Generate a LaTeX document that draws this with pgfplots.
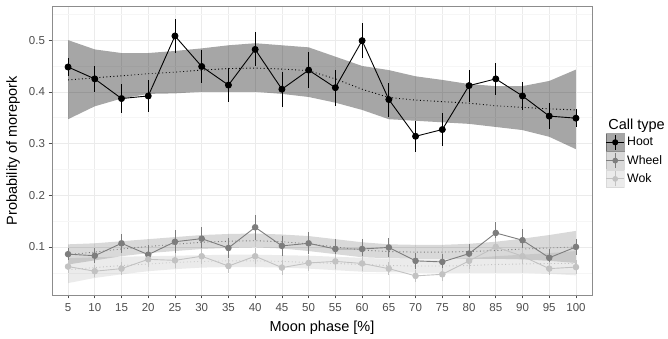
\documentclass[border=0pt]{standalone}
\usepackage{pgfplots}
\pgfplotsset{compat=1.18}
\usepackage{pgfplotstable}
\usepgfplotslibrary{fillbetween}
\usepackage{fontspec}
\setmainfont{Liberation Sans}
\definecolor{hootc}{HTML}{000000}
\definecolor{wheelc}{HTML}{7D7D7D}
\definecolor{wokc}{HTML}{C2C2C2}
\definecolor{gridmaj}{HTML}{EBEBEB}
\definecolor{gridmin}{HTML}{F6F6F6}
\definecolor{tickc}{HTML}{4D4D4D}

\pgfplotstableread{
x y e s lo hi
5 0.448 0.017 0.423 0.347 0.500
10 0.425 0.025 0.427 0.372 0.482
15 0.387 0.028 0.431 0.387 0.475
20 0.392 0.031 0.435 0.396 0.475
25 0.508 0.033 0.438 0.397 0.479
30 0.449 0.032 0.442 0.400 0.484
35 0.413 0.033 0.445 0.400 0.490
40 0.482 0.033 0.446 0.400 0.494
45 0.405 0.034 0.444 0.396 0.490
50 0.442 0.035 0.441 0.390 0.486
55 0.408 0.035 0.425 0.379 0.468
60 0.499 0.034 0.405 0.365 0.450
65 0.385 0.033 0.389 0.347 0.442
70 0.314 0.030 0.384 0.344 0.430
75 0.327 0.032 0.381 0.341 0.423
80 0.412 0.031 0.378 0.338 0.415
85 0.425 0.031 0.373 0.332 0.411
90 0.392 0.027 0.370 0.326 0.411
95 0.353 0.025 0.367 0.313 0.421
100 0.349 0.017 0.365 0.289 0.443
}\hoot

\pgfplotstableread{
x y e s lo hi
5 0.086 0.012 0.085 0.066 0.105
10 0.083 0.015 0.090 0.074 0.107
15 0.107 0.018 0.096 0.082 0.111
20 0.085 0.018 0.101 0.088 0.115
25 0.110 0.022 0.105 0.092 0.119
30 0.116 0.023 0.109 0.096 0.123
35 0.098 0.020 0.111 0.098 0.125
40 0.138 0.024 0.112 0.099 0.126
45 0.102 0.020 0.110 0.097 0.124
50 0.107 0.021 0.106 0.092 0.121
55 0.096 0.019 0.100 0.086 0.115
60 0.096 0.019 0.094 0.080 0.109
65 0.099 0.019 0.091 0.078 0.105
70 0.073 0.016 0.090 0.077 0.104
75 0.071 0.016 0.090 0.077 0.104
80 0.087 0.018 0.091 0.077 0.106
85 0.127 0.022 0.093 0.077 0.110
90 0.113 0.021 0.096 0.076 0.116
95 0.079 0.017 0.098 0.073 0.123
100 0.100 0.015 0.100 0.069 0.131
}\wheel

\pgfplotstableread{
x y e s lo hi
5 0.062 0.012 0.056 0.030 0.078
10 0.053 0.012 0.060 0.040 0.080
15 0.058 0.013 0.064 0.047 0.081
20 0.076 0.015 0.067 0.053 0.082
25 0.074 0.015 0.070 0.057 0.083
30 0.082 0.016 0.072 0.060 0.084
35 0.063 0.014 0.073 0.061 0.085
40 0.082 0.016 0.073 0.061 0.085
45 0.060 0.014 0.072 0.060 0.084
50 0.069 0.015 0.070 0.058 0.083
55 0.072 0.015 0.068 0.055 0.081
60 0.068 0.015 0.066 0.052 0.079
65 0.058 0.013 0.064 0.051 0.077
70 0.044 0.011 0.063 0.050 0.076
75 0.047 0.012 0.063 0.050 0.076
80 0.073 0.015 0.064 0.050 0.078
85 0.100 0.018 0.066 0.050 0.082
90 0.082 0.016 0.067 0.050 0.085
95 0.058 0.013 0.068 0.048 0.088
100 0.061 0.013 0.068 0.045 0.092
}\wok

\begin{document}
\begin{tikzpicture}
\begin{axis}[
  scale only axis, width=540pt, height=289pt,
  clip=false,
  xmin=2, xmax=103, ymin=0.007, ymax=0.566,
  xtick={5,10,...,100},
  ytick={0.1,0.2,0.3,0.4,0.5},
  minor ytick={0.05,0.15,0.25,0.35,0.45,0.55},
  yticklabels={0.1,0.2,0.3,0.4,0.5},
  xmajorgrids, ymajorgrids, yminorgrids,
  major grid style={color=gridmaj, line width=0.6pt},
  minor grid style={color=gridmin, line width=0.5pt},
  axis line style={color=black!45, line width=0.6pt},
  tick align=outside, major tick length=3.5pt, minor tick length=0pt,
  tick style={color=tickc, line width=0.6pt},
  xtick pos=bottom, ytick pos=left,
  /pgf/number format/assume math mode=true,
  tick label style={font=\fontsize{11.5}{12}\selectfont, color=tickc},
  xticklabel style={yshift=-1.5pt},
  xlabel={Moon phase [\%]}, ylabel={Probability of morepork},
  label style={font=\fontsize{14.5}{15}\selectfont},
  xlabel style={at={(axis description cs:0.5,-0.114)}, anchor=center},
  ylabel style={at={(axis description cs:-0.072,0.5)}, anchor=center},
  legend style={at={(1.0255,0.56)}, anchor=north west, draw=none, fill=none,
    inner sep=0pt, outer sep=0pt, row sep=0pt,
    font=\fontsize{12.3}{12.3}\selectfont,
    nodes={inner xsep=2.5pt, inner ysep=0pt}},
  legend cell align=left,
]
% ribbons
\addplot[name path=wokup, draw=none, forget plot] table[x=x,y=hi]{\wok};
\addplot[name path=woklo, draw=none, forget plot] table[x=x,y=lo]{\wok};
\addplot[fill=black, fill opacity=0.08, draw=none, forget plot] fill between[of=wokup and woklo];
\addplot[name path=wheelup, draw=none, forget plot] table[x=x,y=hi]{\wheel};
\addplot[name path=wheello, draw=none, forget plot] table[x=x,y=lo]{\wheel};
\addplot[fill=black, fill opacity=0.15, draw=none, forget plot] fill between[of=wheelup and wheello];
\addplot[name path=hootup, draw=none, forget plot] table[x=x,y=hi]{\hoot};
\addplot[name path=hootlo, draw=none, forget plot] table[x=x,y=lo]{\hoot};
\addplot[fill=black, fill opacity=0.35, draw=none, forget plot] fill between[of=hootup and hootlo];
% smooth lines
\addplot[wokc, line width=0.9pt, dash pattern=on 0.9pt off 2.6pt, forget plot] table[x=x,y=s]{\wok};
\addplot[wheelc, line width=0.9pt, dash pattern=on 0.9pt off 2.6pt, forget plot] table[x=x,y=s]{\wheel};
\addplot[hootc, line width=0.9pt, dash pattern=on 0.9pt off 2.6pt, forget plot] table[x=x,y=s]{\hoot};
% data
\addplot[hootc, line width=0.9pt, mark=*, mark size=3pt, mark options={solid},
  legend image code/.code={
    \fill[black, opacity=0.35] (0pt,-8.7pt) rectangle (18pt,8.7pt);
    \draw[hootc, line width=0.9pt] (0pt,0pt) -- (18pt,0pt);
    \draw[hootc, line width=0.7pt] (9pt,-7.5pt) -- (9pt,7.5pt);
    \fill[hootc] (9pt,0pt) circle (2.6pt);},
  error bars/.cd, y dir=both, y explicit, error mark=none,
  error bar style={line width=0.7pt, hootc}
  ] table[x=x, y=y, y error=e]{\hoot};
\addlegendentry{Hoot}
\addplot[wheelc, line width=0.9pt, mark=*, mark size=2.8pt, mark options={solid},
  legend image code/.code={
    \fill[black, opacity=0.15] (0pt,-8.7pt) rectangle (18pt,8.7pt);
    \draw[wheelc, line width=0.9pt] (0pt,0pt) -- (18pt,0pt);
    \draw[wheelc, line width=0.7pt] (9pt,-7.5pt) -- (9pt,7.5pt);
    \fill[wheelc] (9pt,0pt) circle (2.4pt);},
  error bars/.cd, y dir=both, y explicit, error mark=none,
  error bar style={line width=0.7pt, wheelc}
  ] table[x=x, y=y, y error=e]{\wheel};
\addlegendentry{Wheel}
\addplot[wokc, line width=0.9pt, mark=*, mark size=2.8pt, mark options={solid},
  legend image code/.code={
    \fill[black, opacity=0.08] (0pt,-8.7pt) rectangle (18pt,8.7pt);
    \draw[wokc, line width=0.9pt] (0pt,0pt) -- (18pt,0pt);
    \draw[wokc, line width=0.7pt] (9pt,-7.5pt) -- (9pt,7.5pt);
    \fill[wokc] (9pt,0pt) circle (2.4pt);},
  error bars/.cd, y dir=both, y explicit, error mark=none,
  error bar style={line width=0.7pt, wokc}
  ] table[x=x, y=y, y error=e]{\wok};
\addlegendentry{Wok}
\node[anchor=base west, font=\fontsize{14.5}{15}\selectfont, inner sep=0pt]
  at (rel axis cs:1.030,0.574) {Call type};
\end{axis}
\pgfresetboundingbox
\path[use as bounding box] (-52pt,-44pt) rectangle (616pt,295pt);
\end{tikzpicture}
\end{document}
